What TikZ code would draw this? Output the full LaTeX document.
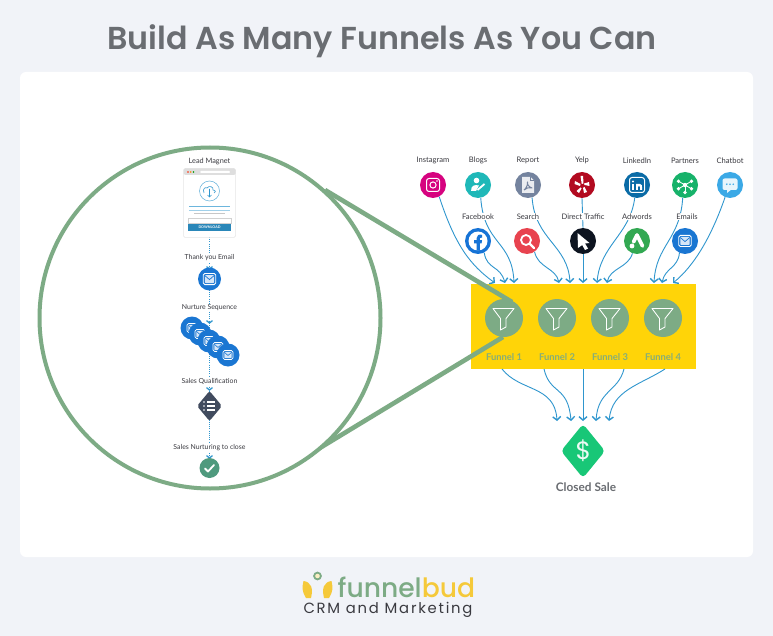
\documentclass[tikz,border=0pt]{standalone}
\usepackage{fontspec}
\setmainfont{Lato}
\newfontfamily\titlefont{Poppins SemiBold}
\newfontfamily\logofont{Poppins}
\newfontfamily\logobold{Poppins Medium}
\usetikzlibrary{arrows.meta,shapes.geometric}
\definecolor{pagebg}{HTML}{F1F3F8}
\definecolor{sage}{HTML}{7DAB85}
\definecolor{wire}{HTML}{2F96CE}
\definecolor{bandy}{HTML}{FFD408}
\definecolor{txt}{HTML}{3A3A40}
\definecolor{titlegray}{HTML}{6A6D72}
\definecolor{flab}{HTML}{86AE78}
\definecolor{mailblue}{HTML}{1A76D2}
\definecolor{goldl}{HTML}{F5C93A}
\definecolor{cA}{HTML}{D6037F}\definecolor{cB}{HTML}{1FB8B8}\definecolor{cC}{HTML}{74839E}\definecolor{cD}{HTML}{B20A20}
\definecolor{cE}{HTML}{0A6BA6}\definecolor{cF}{HTML}{17B26A}\definecolor{cG}{HTML}{3BA9E6}\definecolor{cH}{HTML}{1673D6}
\definecolor{cI}{HTML}{E8434F}\definecolor{cJ}{HTML}{0D1420}\definecolor{cK}{HTML}{32A852}
\definecolor{saleg}{HTML}{18C777}
\definecolor{slate}{HTML}{414B5E}
\definecolor{okgreen}{HTML}{4F9A7E}
\tikzset{
 x=1pt,y=-1pt,
 conn/.style={draw=wire,line width=.9pt,-{Straight Barb[length=3.4pt,width=8pt,line width=1.4pt]}},
 ico/.style={circle,minimum size=26pt,inner sep=0pt,fill=#1},
 lab/.style={font=\fontsize{7.6}{9}\selectfont,text=txt,inner sep=0pt},
 sm/.style={font=\fontsize{6.9}{9}\selectfont,text=txt,inner sep=0pt},
 glw/.style={draw=white,line width=1pt,fill=none},
 fun/.style={circle,minimum size=38pt,inner sep=0pt,fill=sage},
 flabel/.style={font=\fontsize{9.4}{11}\selectfont\bfseries,text=flab,inner sep=0pt},
 dots/.style={draw=wire,line width=1pt,dash pattern=on .9pt off 1.3pt},
 chev/.style={draw=wire,line width=1.3pt}
}
\newcommand{\mailglyph}[1]{%
 \begin{scope}[shift={(#1)}]
 \draw[white,line width=.8pt,rounded corners=1.6pt] (-6.3,-5.6) rectangle (6.3,5.6);
 \fill[white!82!mailblue,rounded corners=.8pt] (-4.6,-4) rectangle (4.6,4);
 \draw[mailblue,line width=.7pt] (-4.6,-3.4) -- (0,.6) -- (4.6,-3.4);
 \end{scope}}
\newcommand{\funnelglyph}[1]{%
 \begin{scope}[shift={(#1)}]
 \draw[white,line width=.85pt,line join=round] (-11,-9.5) -- (10,-9.5) -- (2,.5) -- (2,9) -- (-3.5,12) -- (-3.5,.5) -- cycle;
 \end{scope}}
\newcommand{\chevdown}[1]{\draw[chev] ([shift={(-3,-2.4)}]#1) -- (#1) -- ([shift={(3,-2.4)}]#1);}
\begin{document}
\begin{tikzpicture}
\useasboundingbox (0,0) rectangle (773,636);
\fill[pagebg] (0,0) rectangle (773,636);
\fill[white,rounded corners=6pt] (20,72) rectangle (753,557);
\node[font=\titlefont\fontsize{31.7}{36}\selectfont,text=titlegray,inner sep=0pt] (title) at (382,41.5) {Build As Many Funnels As You Can};

% band
\node[rectangle,fill=bandy,minimum width=225pt,minimum height=85pt,inner sep=0pt] (band) at (583.5,326.5) {};
% source icons
\node[ico=cA] (insta) at (433,185) {};
\node[ico=cB] (blogs) at (478,185) {};
\node[ico=cC] (report) at (528,185) {};
\node[ico=cD] (yelp) at (582,185) {};
\node[ico=cE] (linked) at (637,185) {};
\node[ico=cF] (partners) at (685,185) {};
\node[ico=cG] (chatbot) at (730,185) {};
\node[ico=cH] (fb) at (478,241) {};
\node[ico=cI] (search) at (527,241) {};
\node[ico=cJ] (direct) at (583,241) {};
\node[ico=cK] (adw) at (637,241) {};
\node[ico=mailblue] (emails) at (685,241) {};
% end points
\foreach \n/\x in {a/495,b/505,c/514,d/559,e/570,f/583,g/597,h/607,i/654,j/662,k/673}{\coordinate (t\n) at (\x,283);}
\foreach \n/\x in {a/557,b/571,c/583,d/596,e/609}{\coordinate (s\n) at (\x,421);}
% connectors
\draw[conn] (insta.-62) .. controls (455,245) and (470,265) .. (ta);
\draw[conn] (blogs.-78) .. controls (484,245) and (512,240) .. (tc);
\draw[conn] (fb.-62) .. controls (487,270) and (500,265) .. (tb);
\draw[conn] (search.-55) .. controls (538,268) and (556,268) .. (td);
\draw[conn] (report.-72) .. controls (535,240) and (568,245) .. (te);
\draw[conn] (direct.-90) -- (tf);
\draw[draw=wire,line width=.9pt] (yelp.-90) -- (direct.90);
\draw[conn] (linked.-100) .. controls (630,235) and (600,245) .. (tg);
\draw[conn] (adw.-110) .. controls (628,268) and (610,268) .. (th);
\draw[conn] (partners.-100) .. controls (680,240) and (656,245) .. (ti);
\draw[conn] (emails.-115) .. controls (678,268) and (665,268) .. (tj);
\draw[conn] (chatbot.-112) .. controls (712,235) and (695,265) .. (tk);
% labels
\node[lab] at (433,160.5) {Instagram};
\node[lab] at (478,160.5) {Blogs};
\node[lab] at (528,160.5) {Report};
\node[lab] at (582,160.5) {Yelp};
\node[lab] at (637,160.5) {LinkedIn};
\node[lab] at (685,160.5) {Partners};
\node[lab] at (730,160.5) {Chatbot};
\node[lab,fill=white,inner ysep=.5pt] at (478,216.5) {Facebook};
\node[lab,fill=white,inner ysep=.5pt] at (528,216.5) {Search};
\node[lab,fill=white,inner ysep=.5pt] at (583,216.5) {Direct Traffic};
\node[lab,fill=white,inner ysep=.5pt] at (637,216.5) {Adwords};
\node[lab,fill=white,inner ysep=.5pt] at (687,216.5) {Emails};
% band outputs
\coordinate (b1) at (502,369);
\coordinate (b2) at (544,369);
\coordinate (b3) at (583,369);
\coordinate (b4) at (624,369);
\coordinate (b5) at (665,369);
\draw[conn] (b1) .. controls (520,392) and (555,385) .. (sa);
\draw[conn] (b2) .. controls (550,395) and (568,385) .. (sb);
\draw[conn] (b3) -- (sc);
\draw[conn] (b4) .. controls (618,392) and (598,390) .. (sd);
\draw[conn] (b5) .. controls (640,385) and (612,390) .. (se);
% funnels
\foreach \n/\x/\t in {1/504/Funnel 1,2/557/Funnel 2,3/610/Funnel 3,4/663/Funnel 4}{
 \node[fun] (f\n) at (\x,318) {};
 \funnelglyph{\x,318}
 \node[flabel] (fl\n) at (\x,357.5) {\t};
}
% sale
\fill[saleg,rounded corners=4pt] (583,424) -- (605,451) -- (583,478) -- (561,451) -- cycle;
\node[font=\logofont\fontsize{25}{28}\selectfont,text=white!92!saleg,inner sep=0pt] (dollar) at (583.5,451) {\$};
\node[font=\fontsize{11.8}{14}\selectfont\bfseries,text=titlegray,inner sep=0pt] (closed) at (586,487) {Closed Sale};
% zoom lens
\draw[sage,line width=4.6pt] (325,190) -- (512,302);
\draw[sage,line width=4.6pt] (300,460) -- (503,337);
\node[circle,draw=sage,line width=4pt,fill=white,minimum size=341pt,inner sep=0pt] (lens) at (210,318) {};
% left column
\coordinate (dtop) at (209.5,237);
\coordinate (dbot) at (209.5,460);
\draw[dots] (dtop) -- (dbot);
\node[sm,font=\fontsize{7.3}{9}\selectfont] (l1) at (209.5,161.5) {Lead Magnet};
\node[rectangle,rounded corners=1.5pt,draw=black!10,fill=white,line width=.5pt,minimum width=52pt,minimum height=69pt,inner sep=0pt] (card) at (209.5,203) {};
\fill[black!13,rounded corners=1.5pt] (183.5,168.5) rectangle (235.5,175);
\fill[white,rounded corners=1pt] (200,171) rectangle (230,173);
\fill[red!70!orange] (188,172) circle (.9);
\fill[orange] (190.7,172) circle (.9);
\fill[green!60!black] (193.4,172) circle (.9);
\draw[wire!75,line width=.5pt] (209.5,191) circle (10);
\draw[wire,line width=.6pt,line join=round] (204,193) .. controls (202,188) and (206,187) .. (207,188) .. controls (209,185) and (214,187) .. (213,190) .. controls (216,190) and (216,193) .. (214,193);
\draw[wire,line width=.6pt] (209.5,189) -- (209.5,197) (207.5,195) -- (209.5,197) -- (211.5,195);
\fill[wire!70] (189,206) rectangle (230,207);
\fill[wire!45] (189,210) rectangle (230,211);
\fill[black!22] (194,213.5) rectangle (225,214.5);
\draw[black!18,line width=.4pt] (188,218) rectangle (231,223);
\fill[wire!90!black] (188,224) rectangle (231,231);
\node[font=\fontsize{3.6}{4}\selectfont\bfseries,text=white,inner sep=0pt] (dl) at (209.5,227.5) {DOWNLOAD};
\node[sm,fill=white,inner ysep=.5pt] (l2) at (209.5,258) {Thank you Email};
\chevdown{209.5,269}
\node[circle,fill=mailblue,minimum size=23pt,inner sep=0pt] (e0) at (209.5,279) {};
\mailglyph{209.5,279}
\node[sm,fill=white,inner ysep=.5pt] (l3) at (209.5,307.5) {Nurture Sequence};
\chevdown{209.5,323}
\foreach \x/\y in {192/328,200/334,209/341,218/347,228/355}{
 \fill[mailblue] (\x,\y) circle (11.5);
 \begin{scope}[shift={(\x,\y)},scale=.8]
 \draw[white,line width=.7pt,rounded corners=1.6pt] (-6.3,-5.6) rectangle (6.3,5.6);
 \fill[white!82!mailblue,rounded corners=.8pt] (-4.6,-4) rectangle (4.6,4);
 \draw[mailblue,line width=.6pt] (-4.6,-3.4) -- (0,.6) -- (4.6,-3.4);
 \end{scope}
}
\node[sm,fill=white,inner ysep=.5pt] (l4) at (209.5,381) {Sales Qualification};
\chevdown{209.5,390}
\fill[slate,rounded corners=2pt] (209.5,391) -- (222,406) -- (209.5,421) -- (197,406) -- cycle;
\foreach \y in {402,406,410}{
 \fill[white] (204,\y) circle (.9);
 \fill[white] (206.5,\y-.6) rectangle (215,\y+.6);
}
\node[sm,fill=white,inner ysep=.5pt] (l5) at (209.5,448) {Sales Nurturing to close};
\chevdown{209.5,458}
\node[circle,fill=okgreen,minimum size=20pt,inner sep=0pt] (ok) at (209.5,468) {};
\draw[white,line width=1.8pt,line cap=round,line join=round] (205,468.5) -- (208,471.5) -- (214,465);
% glyphs on sources
\begin{scope}[shift={(433,185)}]
 \draw[glw,rounded corners=2.5pt] (-6.5,-6.5) rectangle (6.5,6.5);
 \draw[glw] (0,0) circle (3.1);
 \fill[white] (4,-4) circle (.8);
\end{scope}
\begin{scope}[shift={(478,185)}]
 \fill[white] (-1.5,-4.5) circle (2.8);
 \fill[white] (-7,6) .. controls (-7,0) and (-3,-.5) .. (1,.5) -- (-2,6) -- cycle;
 \draw[white,line width=1.8pt] (-.5,5) -- (6.5,-1);
\end{scope}
\begin{scope}[shift={(528,185)}]
 \fill[white!85!cC] (-6,-8) -- (2.5,-8) -- (6,-4.5) -- (6,8) -- (-6,8) -- cycle;
 \draw[cC,line width=.7pt] (2.5,-8) -- (2.5,-4.5) -- (6,-4.5);
 \draw[cC,line width=1pt,line join=round] (-4,5) .. controls (-1,3) and (0,-2) .. (-.5,-3) .. controls (-1,-2) and (0,2) .. (4,3) .. controls (1,2) and (-2,3) .. (-4,5);
\end{scope}
\begin{scope}[shift={(582,185)}]
 \fill[white] (-1.5,-9) -- (1.2,-9) -- (1.3,-1.5) -- (-.3,-1) -- cycle;
 \fill[white] (-2,1) -- (-7.5,-1) -- (-7,-4) -- (-1.5,-1) -- cycle;
 \fill[white] (-1.5,2.5) -- (-5.5,6) -- (-3,8) -- (-.5,3.5) -- cycle;
 \fill[white] (1,3) -- (2,8) -- (5,7) -- (2.5,1.8) -- cycle;
 \fill[white] (2.5,0) -- (7.5,1) -- (7,-3) -- (2,-1.5) -- cycle;
\end{scope}
\begin{scope}[shift={(637,185)}]
 \draw[glw,rounded corners=2.5pt] (-7.5,-7.5) rectangle (7.5,7.5);
 \fill[white] (-4,-3.5) circle (1.2);
 \fill[white] (-5,-1) rectangle (-3,5);
 \fill[white] (-1,-1) rectangle (1,5);
 \fill[white] (-1,-1) -- (3,-1) .. controls (5,-1) and (5,1) .. (5,2) -- (5,5) -- (3,5) -- (3,2) .. controls (3,.5) and (1,.5) .. (1,2) -- cycle;
\end{scope}
\begin{scope}[shift={(685,185)}]
 \foreach \a in {30,90,150,210,330}{
  \draw[white,line width=.8pt] (0,0) -- (\a:7);
  \fill[white] (\a:7.5) circle (1.9);
 }
 \fill[white] (0,0) circle (2.2);
\end{scope}
\begin{scope}[shift={(730,185)}]
 \fill[white!88!cG,rounded corners=2pt] (-7.5,-6.5) rectangle (7.5,5);
 \fill[white!88!cG] (-3,4) -- (-3,8) -- (2,4) -- cycle;
 \foreach \x in {-3.2,0,3.2}{\fill[cG] (\x,-.8) circle (.9);}
\end{scope}
\begin{scope}[shift={(478,241)}]
 \fill[white] (0,0) circle (9.5);
 \fill[cH] (-1.3,9.6) -- (-1.3,2.5) -- (-4,2.5) -- (-4,-.8) -- (-1.3,-.8) -- (-1.3,-3) .. controls (-1.3,-6) and (1,-6.8) .. (4,-6.2) -- (4,-3.4) .. controls (2,-3.5) and (1.8,-3) .. (1.8,-2) -- (1.8,-.8) -- (4,-.8) -- (3.6,2.5) -- (1.8,2.5) -- (1.8,9.6) -- cycle;
\end{scope}
\begin{scope}[shift={(527,241)}]
 \draw[white,line width=1.8pt] (-1,-1) circle (5);
 \draw[white,line width=2.2pt,line cap=round] (3,3) -- (7,7);
\end{scope}
\begin{scope}[shift={(583,241)}]
 \fill[white] (-5.5,-8) -- (6.5,2) -- (2,2.5) -- (5,7.5) -- (2,9) -- (-.8,4) -- (-5,7) -- cycle;
\end{scope}
\begin{scope}[shift={(637,241)}]
 \draw[white,line width=3.6pt,line cap=round] (0,-6) -- (5.5,5);
 \draw[white,line width=3.6pt,line cap=round] (0,-6) -- (-3.5,1);
 \fill[white] (-5,5) circle (2.4);
\end{scope}
\mailglyph{685,241}
% logo
\fill[goldl] (303.5,581) .. controls (311,582) and (313.5,588) .. (311,598) -- (306,598) .. controls (302,592) and (302,587) .. cycle;
\fill[goldl] (331.5,581) .. controls (324,582) and (321.5,588) .. (324,598) -- (329,598) .. controls (333,592) and (333,587) .. cycle;
\draw[sage,line width=1.8pt,fill=white!70!goldl] (317.5,576) circle (3.4);
\node[font=\logobold\fontsize{26.6}{30}\selectfont,inner sep=0pt,anchor=base west] (logo) at (337.5,597) {\textcolor{sage}{funnel}\textcolor{goldl}{bud}};
\node[font=\logofont\fontsize{14.8}{17}\selectfont,text=txt,inner sep=0pt,anchor=base] (logo2) at (388,613.5) {\addfontfeature{LetterSpace=12}CRM and Marketing};
\end{tikzpicture}
\end{document}
